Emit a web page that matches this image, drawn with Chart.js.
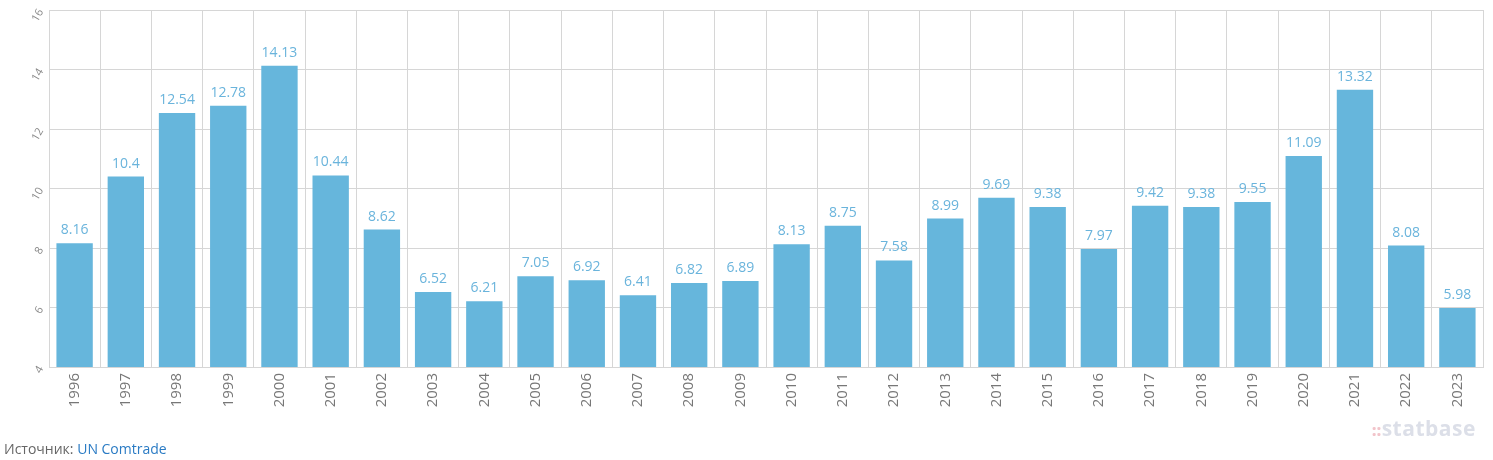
<!DOCTYPE html>
<html>
<head>
<meta charset="utf-8">
<script src="https://cdn.jsdelivr.net/npm/chart.js@4"></script>
<style>
  body { margin: 0; background: #fff; font-family: "Open Sans", sans-serif; }
  #wrap { position: relative; width: 1493px; height: 460px; }
  #source { position: absolute; left: 4px; top: 439px; font-size: 14px; color: #666; }
  #source span { color: #2a7bc4; }
  #mark { position: absolute; left: 1372px; top: 414px; font-size: 21px; font-weight: bold; color: #dcdfe8; letter-spacing: 0.5px; }
  #mark b { color: #f2c4ca; font-size: 15px; }
</style>
</head>
<body>
<div id="wrap">
  <canvas id="chart" width="1493" height="460"></canvas>
  <div id="source">Источник: <span>UN Comtrade</span></div>
  <div id="mark"><b>::</b>statbase</div>
</div>
<script>
const years = ["1996","1997","1998","1999","2000","2001","2002","2003","2004","2005","2006","2007","2008","2009",
  "2010","2011","2012","2013","2014","2015","2016","2017","2018","2019","2020","2021","2022","2023"];
const values = [8.16, 10.4, 12.54, 12.78, 14.13, 10.44, 8.62, 6.52, 6.21, 7.05, 6.92, 6.41, 6.82, 6.89,
  8.13, 8.75, 7.58, 8.99, 9.69, 9.38, 7.97, 9.42, 9.38, 9.55, 11.09, 13.32, 8.08, 5.98];
const yMin = 4, yMax = 16, yStep = 2;

// values written above each bar
const valueLabels = {
  id: "valueLabels",
  afterDatasetsDraw(chart) {
    const ctx = chart.ctx;
    const meta = chart.getDatasetMeta(0);
    ctx.save();
    ctx.font = "14px 'Open Sans'";
    ctx.fillStyle = "#6ab4dc";
    ctx.textAlign = "center";
    ctx.textBaseline = "bottom";
    meta.data.forEach((bar, i) => {
      ctx.fillText(String(values[i]), bar.x, bar.y - 6);
    });
    ctx.restore();
  }
};

new Chart(document.getElementById("chart"), {
  type: "bar",
  data: {
    labels: years,
    datasets: [{
      data: values,
      backgroundColor: "#66b6dc",
      borderWidth: 0,
      categoryPercentage: 1,
      barPercentage: 0.71
    }]
  },
  options: {
    responsive: false,
    animation: false,
    layout: { padding: { top: 10, right: 10, left: 0, bottom: 0 } },
    plugins: { legend: { display: false }, tooltip: { enabled: false } },
    scales: {
      x: {
        grid: { color: "#d6d6d6", offset: true, drawTicks: false },
        border: { color: "#d6d6d6" },
        ticks: {
          color: "#777", font: { family: "Open Sans", size: 15 },
          minRotation: 90, maxRotation: 90, padding: 6
        },
        afterFit: s => { s.height = 93; }
      },
      y: {
        min: yMin, max: yMax,
        grid: { color: "#d6d6d6", drawTicks: false },
        border: { display: false },
        ticks: {
          stepSize: yStep, color: "#888", font: { family: "Open Sans", size: 11 },
          minRotation: 60, maxRotation: 60, padding: 8
        },
        afterFit: s => { s.width = 49; s.paddingTop = 0; s.paddingBottom = 0; }
      }
    }
  },
  plugins: [valueLabels]
});
</script>
</body>
</html>
